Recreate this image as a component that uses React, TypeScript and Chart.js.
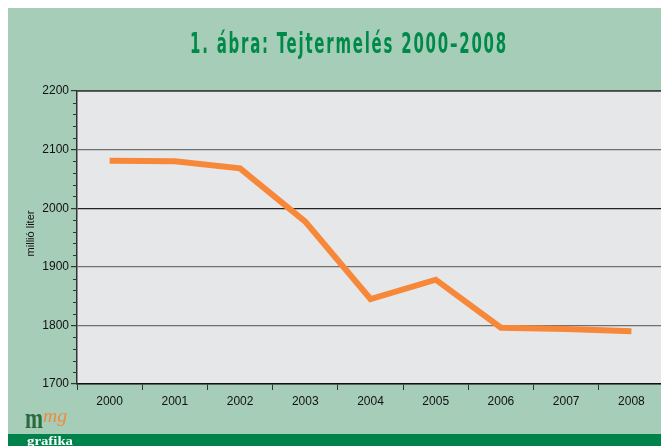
import React, { useEffect, useRef } from "react";
import { Chart, registerables } from "chart.js";

Chart.register(...registerables);

const years = ["2000", "2001", "2002", "2003", "2004", "2005", "2006", "2007", "2008"];
const milkProduction = [2081, 2080, 2068, 1977, 1845, 1878, 1796, 1794, 1790];
const yTicks = [1700, 1800, 1900, 2000, 2100, 2200];
const titleText = "1. ábra: Tejtermelés 2000–2008";
const yAxisTitle = "millió liter";

const W = 661;
const H = 438;

function fitText(ctx: any, text: string, x: number, y: number, width: number) {
  const tw = ctx.measureText(text).width;
  ctx.save();
  ctx.translate(x, y);
  ctx.scale(width / tw, 1);
  ctx.fillText(text, 0, 0);
  ctx.restore();
}

const decorPlugin = {
  id: "decor",
  beforeDraw(chart: any) {
    const { ctx, chartArea: ca } = chart;
    ctx.save();
    ctx.fillStyle = "#a6cdb8";
    ctx.fillRect(0, 0, W, H);
    ctx.fillStyle = "#e6e7e9";
    ctx.fillRect(ca.left, ca.top, ca.right - ca.left, ca.bottom - ca.top);
    ctx.restore();
  },
  afterDraw(chart: any) {
    const { ctx, chartArea: ca } = chart;
    const y = chart.scales.y;
    ctx.save();
    ctx.strokeStyle = "#3a3a3a";
    ctx.lineWidth = 1.5;
    ctx.beginPath();
    ctx.moveTo(ca.left, ca.top);
    ctx.lineTo(ca.right, ca.top);
    ctx.stroke();
    ctx.strokeStyle = "#6a6a6a";
    ctx.beginPath();
    ctx.moveTo(ca.right, ca.top);
    ctx.lineTo(ca.right, ca.bottom);
    ctx.stroke();
    ctx.strokeStyle = "#333";
    ctx.lineWidth = 1;
    for (let v = yTicks[0]; v <= yTicks[yTicks.length - 1]; v += 20) {
      if (v % 100 === 0) continue;
      const py = Math.round(y.getPixelForValue(v)) + 0.5;
      ctx.beginPath();
      ctx.moveTo(ca.left - 4, py);
      ctx.lineTo(ca.left, py);
      ctx.stroke();
    }
    ctx.restore();

    // title
    ctx.save();
    ctx.fillStyle = "#008a4a";
    ctx.font = "bold 28px 'DejaVu Sans Condensed', 'Liberation Sans Narrow', sans-serif";
    (ctx as any).letterSpacing = "3px";
    ctx.textBaseline = "alphabetic";
    ctx.textAlign = "left";
    fitText(ctx, titleText, 182, 45, 318);
    ctx.restore();

    ctx.save();
    ctx.fillStyle = "#111";
    ctx.font = "11px 'Liberation Sans', Arial, sans-serif";
    ctx.translate(23, (ca.top + ca.bottom) / 2 - 4);
    ctx.rotate(-Math.PI / 2);
    ctx.textAlign = "center";
    ctx.textBaseline = "middle";
    ctx.fillText(yAxisTitle, 0, 0);
    ctx.restore();

    // logo & bottom bar
    ctx.save();
    ctx.fillStyle = "#00834a";
    ctx.fillRect(0, 426, W, H - 426);
    ctx.textBaseline = "alphabetic";
    ctx.fillStyle = "#2a6a3c";
    ctx.font = "bold 30px 'Liberation Serif', serif";
    fitText(ctx, "m", 17, 420, 18);
    ctx.fillStyle = "#f08a3c";
    ctx.font = "italic 18px 'Liberation Serif', serif";
    fitText(ctx, "mg", 35, 414, 24);
    ctx.fillStyle = "#ffffff";
    ctx.font = "bold 13px 'Liberation Serif', serif";
    fitText(ctx, "grafika", 19, 437, 46);
    ctx.restore();
  },
};

export default function App() {
  const ref = useRef<HTMLCanvasElement | null>(null);
  useEffect(() => {
    if (!ref.current) return;
    const chart = new Chart(ref.current, {
      type: "line",
      data: {
        labels: years,
        datasets: [
          {
            data: milkProduction,
            borderColor: "#f7883a",
            borderWidth: 6,
            pointRadius: 0,
            tension: 0,
            fill: false,
            borderCapStyle: "butt",
          },
        ],
      },
      options: {
        responsive: false,
        animation: false,
        devicePixelRatio: 1,
        layout: { padding: { left: 0, right: 5, top: 83, bottom: 0 } },
        plugins: { legend: { display: false }, tooltip: { enabled: false }, title: { display: false } },
        scales: {
          x: {
            type: "category",
            offset: true,
            grid: {
              offset: true,
              drawOnChartArea: false,
              drawTicks: true,
              tickLength: 6,
              tickColor: "#333",
            },
            border: { display: true, color: "#111", width: 1.5 },
            ticks: {
              color: "#111",
              font: { family: "'Liberation Sans', Arial, sans-serif", size: 12 },
              padding: 4,
              maxRotation: 0,
            },
            afterFit(scale: any) {
              scale.height = 62;
            },
          },
          y: {
            min: yTicks[0],
            max: yTicks[yTicks.length - 1],
            afterBuildTicks(scale: any) {
              scale.ticks = yTicks.map((v) => ({ value: v }));
            },
            grid: {
              color: (c: any) => (c.tick && c.tick.value === 2000 ? "#222" : "#707070"),
              lineWidth: 1.2,
              drawTicks: true,
              tickLength: 6,
              tickColor: "#333",
            },
            border: { display: true, color: "#333", width: 1.5 },
            ticks: {
              color: "#111",
              font: { family: "'Liberation Sans', Arial, sans-serif", size: 12 },
              padding: 2,
              callback: (v: any) => String(v),
            },
            afterFit(scale: any) {
              scale.width = 69;
            },
          },
        },
      },
      plugins: [decorPlugin],
    } as any);
    return () => chart.destroy();
  }, []);
  return <canvas ref={ref} width={W} height={H} style={{ display: "block", width: W, height: H }} />;
}
